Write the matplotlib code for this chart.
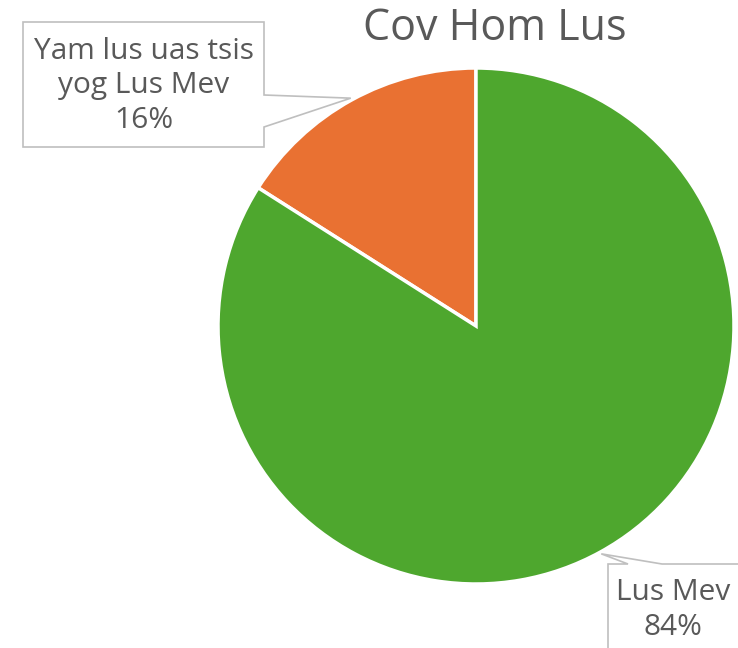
import numpy as np
import matplotlib
matplotlib.use("Agg")
import matplotlib.pyplot as plt
from matplotlib.patches import Polygon

labels = ["Yam lus uas tsis\nyog Lus Mev", "Lus Mev"]
values = [16, 84]
colors = ["#E97132", "#4EA72E"]
title = "Cov Hom Lus"

W, H = 738, 648
fig = plt.figure(figsize=(W / 100, H / 100), dpi=100)
ax = fig.add_axes([0, 0, 1, 1])
ax.set_xlim(0, W)
ax.set_ylim(0, H)
ax.axis("off")

cx, cy, R = 476, H - 326, 258
wedges, _ = ax.pie(values, colors=colors, startangle=90, counterclock=True,
                   center=(cx, cy), radius=R,
                   wedgeprops=dict(edgecolor="white", linewidth=2.5))
ax.set_xlim(0, W)
ax.set_ylim(0, H)
ax.set_aspect("equal")

fam = ["Open Sans", "DejaVu Sans"]
tc = "#595959"
ax.text(495, H - 29, title, ha="center", va="center", fontsize=31,
        color=tc, family=fam)

# label boxes (pixel coords, y from top) and pointer base on box edge
boxes = [
    dict(x0=23, x1=264, y0=22, y1=147, side="right", b0=95, b1=127),
    dict(x0=608, x1=760, y0=564, y1=700, side="top", b0=628, b1=662),
]
total = sum(values)
start = 90.0
for lab, v, b in zip(labels, values, boxes):
    mid = start + 360 * v / total / 2
    start += 360 * v / total
    tx = cx + (R + 2) * np.cos(np.radians(mid))
    ty = cy + (R + 2) * np.sin(np.radians(mid))
    x0, x1 = b["x0"], b["x1"]
    y0, y1 = H - b["y0"], H - b["y1"]
    if b["side"] == "right":
        pts = [(x0, y0), (x1, y0), (x1, H - b["b0"]), (tx, ty),
               (x1, H - b["b1"]), (x1, y1), (x0, y1)]
    else:
        pts = [(x0, y0), (b["b0"], y0), (tx, ty), (b["b1"], y0),
               (x1, y0), (x1, y1), (x0, y1)]
    ax.add_patch(Polygon(pts, closed=True, facecolor="white",
                         edgecolor="#BFBFBF", linewidth=1.2, zorder=5,
                         clip_on=False))
    pct = f"{round(100 * v / total)}%"
    if b["side"] == "right":
        ax.text((x0 + x1) / 2, H - 86, lab + "\n" + pct, ha="center",
                va="center", fontsize=21.5, color=tc, family=fam,
                linespacing=1.25, zorder=6)
    else:
        ax.text(673, H - 610, lab + "\n" + pct, ha="center", va="center",
                fontsize=21.5, color=tc, family=fam, linespacing=1.25,
                zorder=6)

fig.savefig("out.png", dpi=100)
